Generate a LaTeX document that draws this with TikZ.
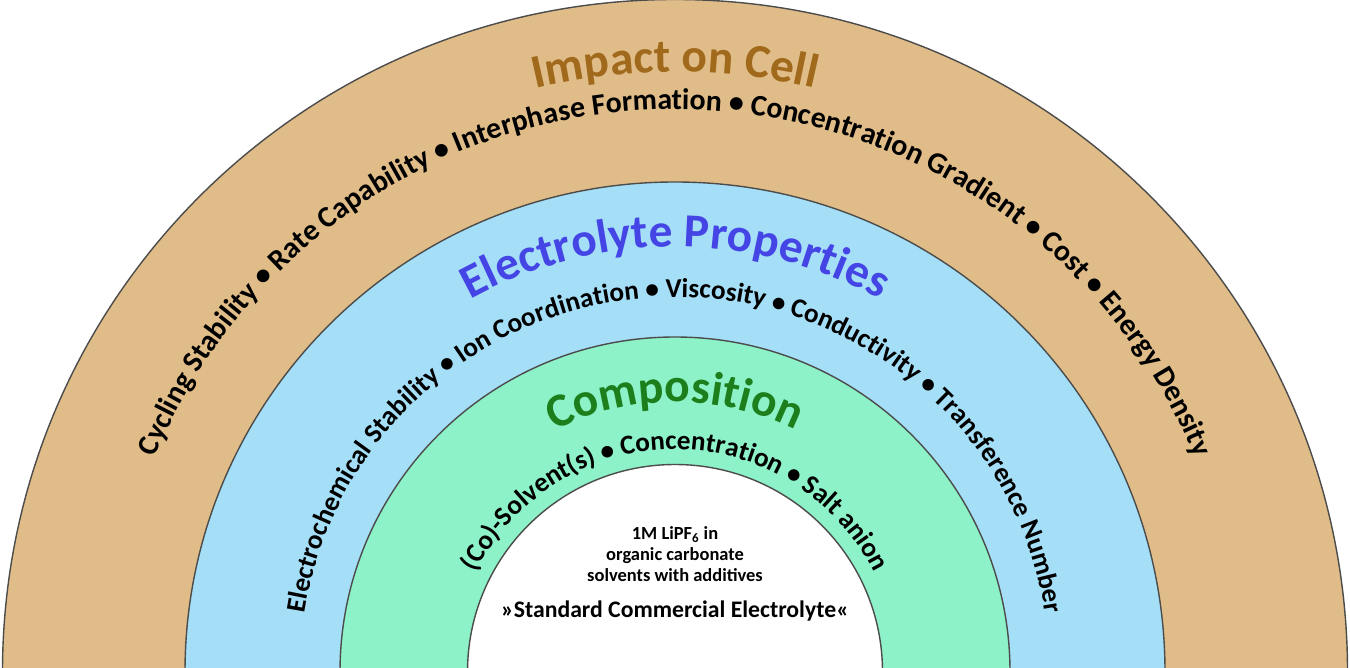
\documentclass[tikz,border=0pt]{standalone}
\usepackage{fontspec}
\setmainfont{Carlito}
\usetikzlibrary{decorations.text}
\definecolor{tan}{HTML}{E0BD88}
\definecolor{sky}{HTML}{A5DFF7}
\definecolor{mint}{HTML}{8DF2C8}
\definecolor{brownT}{HTML}{A0691C}
\definecolor{blueT}{HTML}{4545E6}
\definecolor{greenT}{HTML}{1C7F1C}
\tikzset{ring/.style={draw=black!70,line width=0.8pt},
arctext/.style={decorate,decoration={text along path,text align=center,text={#1}}}}
\begin{document}
\begin{tikzpicture}
\useasboundingbox (0,0) rectangle (27,13.34);
\coordinate (c) at (13.5,-0.1);
\begin{scope}
\clip (0,0) rectangle (27,13.34);
\fill[tan,ring] (c) ++(0:13.45) arc[start angle=0,end angle=180,radius=13.45] -- cycle;
\fill[sky,ring] (c) ++(0:9.8) arc[start angle=0,end angle=180,radius=9.8] -- cycle;
\fill[mint,ring] (c) ++(0:6.7) arc[start angle=0,end angle=180,radius=6.7] -- cycle;
\fill[white,ring] (c) ++(0:4.15) arc[start angle=0,end angle=180,radius=4.15] -- cycle;
\end{scope}
\path[arctext={|\color{brownT}\fontsize{27}{30}\selectfont\bfseries|Impact on Cell}] (c) ++(180:12.0) arc[start angle=180,end angle=0,radius=12.0];
\path[arctext={|\fontsize{17}{20}\selectfont\bfseries|Cycling Stability • Rate Capability • Interphase Formation • Concentration Gradient • Cost • Energy Density}] (c) ++(180:11.25) arc[start angle=180,end angle=0,radius=11.25];
\path[arctext={|\color{blueT}\fontsize{27}{30}\selectfont\bfseries|Electrolyte Properties}] (c) ++(180:8.5) arc[start angle=180,end angle=0,radius=8.5];
\path[arctext={|\fontsize{15.5}{18}\selectfont\bfseries|Electrochemical Stability • Ion Coordination • Viscosity • Conductivity • Transference Number}] (c) ++(180:7.5) arc[start angle=180,end angle=0,radius=7.5];
\path[arctext={|\color{greenT}\fontsize{27}{30}\selectfont\bfseries|Composition}] (c) ++(180:5.4) arc[start angle=180,end angle=0,radius=5.4];
\path[arctext={|\fontsize{15.5}{18}\selectfont\bfseries|(Co)-Solvent(s) • Concentration • Salt anion}] (c) ++(180:4.45) arc[start angle=180,end angle=0,radius=4.45];
\node[font=\fontsize{10.5}{12}\selectfont\bfseries,align=center] (t1) at (13.5,2.25) {1M LiPF\textsubscript{6} in\\organic carbonate\\solvents with additives};
\node[font=\fontsize{13.5}{15}\selectfont\bfseries] (t2) at (13.5,1.12) {»Standard Commercial Electrolyte«};
\end{tikzpicture}
\end{document}
